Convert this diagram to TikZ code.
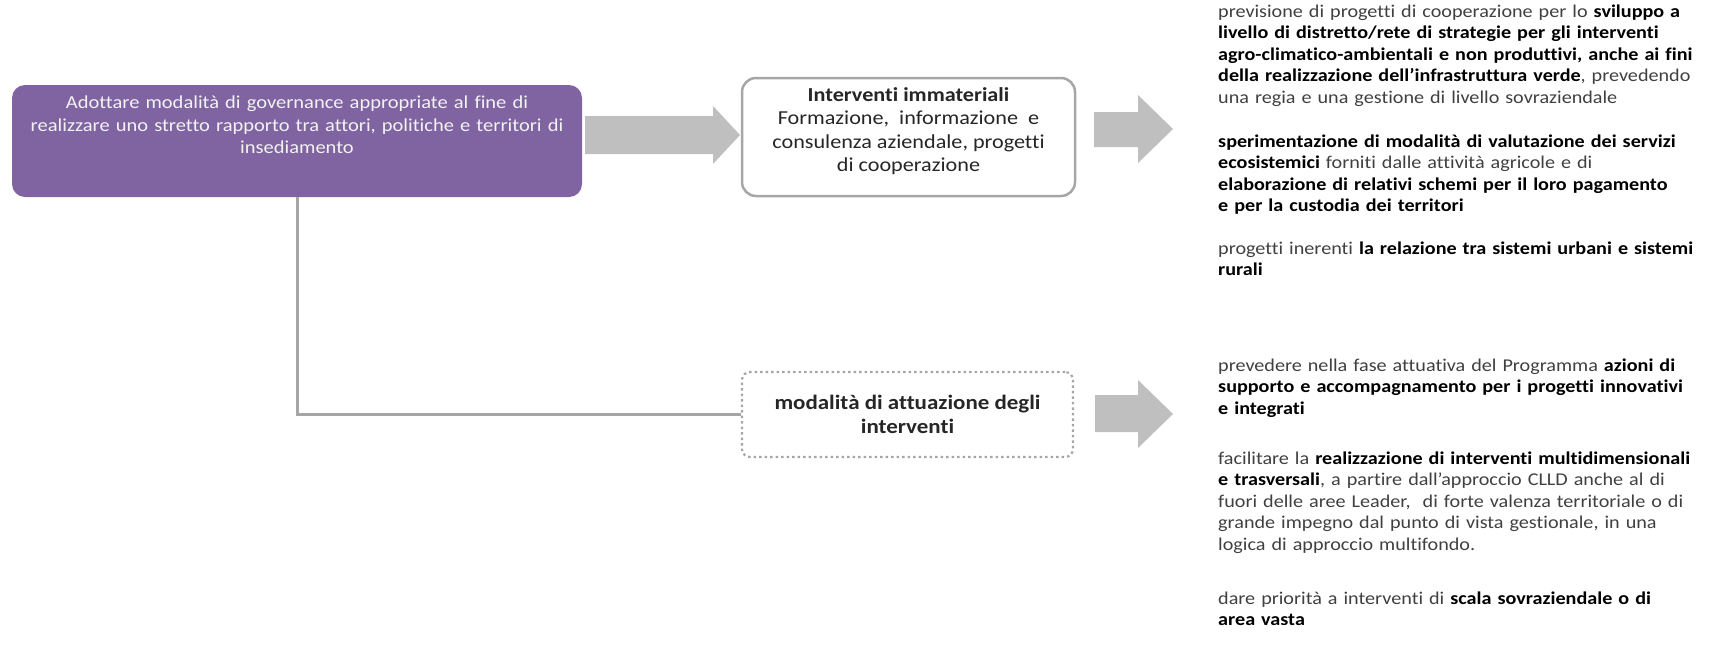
\documentclass[tikz,border=0pt]{standalone}
\usepackage{fontspec}
\setmainfont{Carlito}[FakeStretch=1.12,Ligatures=NoCommon]
\usetikzlibrary{positioning}
\definecolor{govpurple}{HTML}{8064A2}
\definecolor{arrowgray}{HTML}{BFBFBF}
\definecolor{linegray}{HTML}{A6A6A6}
\definecolor{txtgray}{HTML}{404040}
\newcommand{\evid}[1]{\textbf{\color{black}#1}}
\begin{document}
\begin{tikzpicture}[x=1pt,y=-1pt,font=\fontsize{18}{21.5}\selectfont,
		govbox/.style={fill=govpurple,rounded corners=13pt,minimum width=570pt,minimum height=112pt,inner sep=0pt},
		govtext/.style={text=white!95!black,align=center,text width=560pt,inner sep=0pt,font=\fontsize{18.3}{22.5}\selectfont},
		immbox/.style={draw=linegray,line width=2.5pt,rounded corners=14pt,fill=white,minimum width=333pt,minimum height=118pt},
		immtext/.style={align=center,inner sep=0pt,font=\fontsize{19.8}{23.5}\selectfont,text=black!85},
		attbox/.style={draw=linegray,line width=2.2pt,dash pattern=on 2.5pt off 3pt,rounded corners=8pt,minimum width=331pt,
			minimum height=85pt,align=center,font=\fontsize{20.5}{24.5}\selectfont,text=black!85},
		parag/.style={anchor=base west,text width=520pt,align=left,inner sep=0pt,text=txtgray},
		conn/.style={draw=linegray,line width=3pt},
		blockarrow/.style={fill=arrowgray}]
	\useasboundingbox (0,0) rectangle (1715,651);
	\node[govbox] (gov) at (297,141) {};
	\node[govtext] (govtxt) at ([yshift=16pt]gov.center) {Adottare modalità di governance appropriate al fine di\\ realizzare uno stretto rapporto tra attori, politiche e territori di\\ insediamento};
	\node[immbox] (imm) at (908.5,137) {};
	\node[immtext] (immtxt) at ([yshift=6pt]imm.center) {\textbf{Interventi immateriali}\\ Formazione,\ \ informazione\ \ e\\ consulenza aziendale, progetti\\ di cooperazione};
	\node[attbox] (att) at (907.5,414.5) {\textbf{modalità di attuazione degli}\\ \textbf{interventi}};
	\draw[conn] (gov.south) |- (att.west);
	\fill[blockarrow] (585,116) -- (713,116) -- (713,106) -- (740,135) -- (713,164) -- (713,154) -- (585,154) -- cycle;
	\fill[blockarrow] (1094,112) -- (1138,112) -- (1138,95) -- (1173,129) -- (1138,163) -- (1138,147) -- (1094,147) -- cycle;
	\fill[blockarrow] (1095,395) -- (1138,395) -- (1138,380) -- (1173,414) -- (1138,448) -- (1138,432) -- (1095,432) -- cycle;
	\node[parag] (p1) at (1218,17) {previsione di progetti di cooperazione per lo \evid{sviluppo a}\\
		\evid{livello di distretto/rete di strategie per gli interventi}\\
		\evid{agro-climatico-ambientali e non produttivi, anche ai fini}\\
		\evid{della realizzazione dell’infrastruttura verde}, prevedendo\\
		una regia e una gestione di livello sovraziendale};
	\node[parag] (p2) at (1218,147) {\evid{sperimentazione di modalità di valutazione dei servizi}\\
		\evid{ecosistemici} forniti dalle attività agricole e di\\
		\evid{elaborazione di relativi schemi per il loro pagamento}\\
		\evid{e per la custodia dei territori}};
	\node[parag] (p3) at (1218,254) {progetti inerenti \evid{la relazione tra sistemi urbani e sistemi}\\
		\evid{rurali}};
	\node[parag] (p4) at (1218,371) {prevedere nella fase attuativa del Programma \evid{azioni di}\\
		\evid{supporto e accompagnamento per i progetti innovativi}\\
		\evid{e integrati}};
	\node[parag] (p5) at (1218,464) {facilitare la \evid{realizzazione di interventi multidimensionali}\\
		\evid{e trasversali}, a partire dall’approccio CLLD anche al di\\
		fuori delle aree Leader,\ \ di forte valenza territoriale o di\\
		grande impegno dal punto di vista gestionale, in una\\
		logica di approccio multifondo.};
	\node[parag] (p6) at (1218,604) {dare priorità a interventi di \evid{scala sovraziendale o di}\\
		\evid{area vasta}};
\end{tikzpicture}
\end{document}
